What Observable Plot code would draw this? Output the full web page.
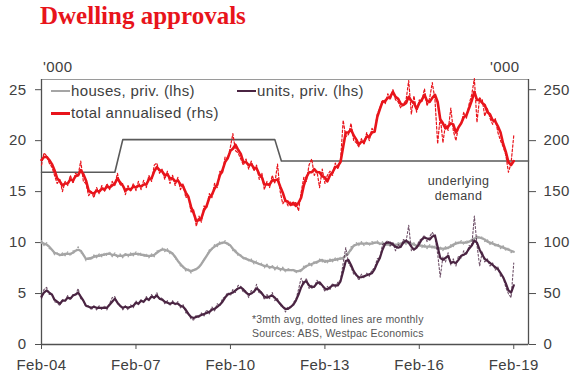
<!DOCTYPE html>
<html>
<head>
<meta charset="utf-8">
<script src="https://cdn.jsdelivr.net/npm/d3@7"></script>
<script src="https://cdn.jsdelivr.net/npm/@observablehq/plot@0.6"></script>
<style>
  body { margin: 0; background: #fff; }
  #wrap { position: relative; width: 580px; height: 376px; font-family: "Liberation Sans", Arial, sans-serif; }
  #title { position: absolute; left: 40px; top: 1px; font-family: "Liberation Serif", "Times New Roman", serif; font-weight: bold; font-size: 25px; color: #e8141b; margin: 0; line-height: 30px; }
  .unit { position: absolute; top: 58px; font-size: 15px; color: #404040; letter-spacing: 0.4px; }
  .leg { position: absolute; font-size: 15px; color: #404040; letter-spacing: 0.35px; white-space: nowrap; line-height: 18px; }
  .leg i { display: inline-block; width: 19px; vertical-align: middle; margin-right: 1px; position: relative; top: -1px; }
  #note { position: absolute; left: 252px; top: 312px; font-size: 10.5px; color: #555; line-height: 14px; letter-spacing: 0.2px; }
</style>
</head>
<body>
<div id="wrap">
  <div id="title">Dwelling approvals</div>
  <div class="unit" style="left:43px">'000</div>
  <div class="unit" style="left:490px">'000</div>
  <div class="leg" style="left:51px; top:82px"><i style="height:2px;background:#a5a5a5"></i>houses, priv. (lhs)</div>
  <div class="leg" style="left:237px; top:82px"><i style="height:2px;background:#4a2442"></i>units, priv. (lhs)</div>
  <div class="leg" style="left:51px; top:104px"><i style="height:3px;background:#e8141b"></i>total annualised (rhs)</div>
  <div id="note">*3mth avg, dotted lines are monthly<br>Sources: ABS, Westpac Economics</div>
</div>
<script>
// Monthly data, Feb-04 (index 0) to Feb-19 (index 180)
const firstMonth = "2004-02-01";

// Houses, private ('000, lhs) — 3mth avg
const housesAvg = [
  10.0,9.9,9.8,9.6,9.3,9.0,8.9,8.8,8.8,8.9,8.9,8.9,
  9.0,9.2,9.3,9.2,8.8,8.4,8.4,8.5,8.6,8.7,8.7,8.8,
  8.8,8.9,8.9,8.8,8.8,8.7,8.7,8.7,8.8,8.8,8.8,8.9,
  8.9,8.9,8.8,8.8,8.7,8.7,8.7,8.8,9.0,9.2,9.3,9.3,
  9.2,9.1,8.9,8.6,8.2,7.9,7.6,7.4,7.3,7.2,7.3,7.4,
  7.6,7.9,8.3,8.7,9.1,9.4,9.6,9.8,9.9,10.0,10.0,9.9,
  9.7,9.4,9.1,8.9,8.7,8.5,8.4,8.3,8.2,8.1,8.0,7.9,
  7.8,7.7,7.7,7.6,7.6,7.5,7.5,7.4,7.4,7.3,7.3,7.3,
  7.3,7.2,7.2,7.3,7.5,7.7,7.8,7.9,8.0,8.1,8.2,8.3,
  8.1,8.2,8.2,8.3,8.3,8.4,8.4,8.5,8.7,9.0,9.3,9.7,
  9.8,9.9,9.9,9.9,9.9,9.9,9.9,10.0,10.0,9.9,9.9,9.8,
  9.8,9.8,9.8,9.8,9.8,9.9,10.0,10.0,10.0,9.9,9.8,9.7,
  9.7,9.7,9.6,9.6,9.6,9.6,9.5,9.5,9.4,9.4,9.4,9.5,
  9.6,9.8,9.9,10.0,10.0,10.0,10.0,10.1,10.2,10.4,10.5,10.5,
  10.4,10.3,10.1,10.0,9.9,9.8,9.7,9.6,9.5,9.4,9.3,9.2,9.1
];
// Houses, private — monthly
const housesMonthly = [
  10.2,9.7,10.0,9.4,9.4,8.8,9.0,8.7,9.0,8.7,9.1,8.7,
  9.2,9.1,9.6,9.0,8.9,8.2,8.6,8.3,8.8,8.5,8.9,8.6,
  9.0,8.7,9.1,8.6,9.0,8.5,8.9,8.5,9.0,8.6,9.0,8.7,
  9.1,8.7,9.0,8.6,8.9,8.5,8.9,8.6,9.2,9.1,9.5,9.1,
  9.4,8.9,9.0,8.4,8.3,7.7,7.7,7.2,7.4,7.0,7.4,7.4,
  7.6,7.9,8.4,8.7,9.3,9.3,9.8,9.6,10.1,9.9,10.2,9.7,
  9.8,9.2,9.3,8.7,8.8,8.4,8.5,8.2,8.4,7.9,8.2,7.8,
  8.0,7.5,7.9,7.4,7.8,7.3,7.7,7.2,7.6,7.1,7.5,7.2,
  7.4,7.0,7.3,7.1,7.7,7.6,8.0,7.7,8.2,7.9,8.4,8.1,
  8.3,8.0,8.4,8.1,8.5,8.2,8.6,8.3,8.9,8.8,9.6,9.6,
  10.0,9.7,10.1,9.7,10.1,9.7,10.1,9.9,10.2,9.8,10.1,9.7,
  10.0,9.6,10.0,9.6,10.0,9.8,10.2,9.8,10.2,9.7,10.0,9.5,
  9.9,9.5,9.8,9.4,9.8,9.4,9.7,9.3,9.6,9.2,9.6,9.4,
  9.8,9.6,10.1,9.9,10.2,9.8,10.2,10.0,10.4,10.3,10.7,10.4,
  10.6,10.1,10.3,9.8,10.1,9.6,9.9,9.4,9.7,9.2,9.5,9.0,9.2
];

// Units, private ('000, lhs) — 3mth avg
const unitsAvg = [
  4.7,5.1,5.3,5.1,4.9,4.4,4.2,4.0,4.3,4.3,4.6,4.5,
  4.8,4.9,5.1,4.7,4.3,3.8,3.7,3.6,3.7,3.6,3.6,3.6,
  3.6,3.6,3.9,4.2,4.5,4.1,3.8,3.6,3.7,3.6,3.7,3.8,
  4.1,4.0,4.3,4.2,4.5,4.4,4.7,4.6,4.8,4.5,4.4,4.2,
  4.1,4.0,4.1,4.0,4.0,3.8,3.7,3.4,3.0,2.7,2.6,2.7,
  2.8,2.9,3.0,3.1,3.2,3.4,3.5,3.7,3.9,4.2,4.6,4.9,
  5.0,5.1,5.3,5.5,5.6,5.4,5.1,4.9,5.0,5.2,5.5,5.3,
  5.0,4.7,4.6,4.7,4.8,4.6,4.3,4.0,3.7,3.5,3.5,3.7,
  3.9,4.3,4.9,5.6,6.1,6.2,5.8,5.6,5.7,6.0,6.1,5.8,
  5.5,5.4,5.6,5.8,5.8,5.8,6.2,7.2,8.2,8.3,7.8,7.2,
  6.8,6.6,6.6,6.7,6.8,6.9,7.0,7.4,8.0,8.5,9.3,9.9,
  10.0,10.0,9.8,9.6,9.5,9.6,10.0,10.2,10.0,9.6,9.3,9.5,
  9.9,10.3,10.5,10.4,10.3,10.6,10.7,9.6,8.5,8.3,8.5,8.7,
  8.0,8.1,8.0,8.3,8.7,8.8,9.0,9.4,9.7,10.2,10.0,9.3,
  8.8,8.4,8.2,8.0,7.8,7.6,7.4,7.0,6.6,6.0,5.3,5.1,5.8
];
// Units, private — monthly
const unitsMonthly = [
  4.5,5.4,5.6,4.9,5.0,4.2,4.1,3.8,4.4,4.3,4.8,4.4,
  4.9,4.8,5.5,4.5,4.3,3.7,3.8,3.4,3.8,3.4,3.8,3.4,
  3.8,3.4,4.0,4.6,4.7,4.0,3.9,3.4,3.8,3.4,3.9,3.6,
  4.3,3.9,4.4,4.1,4.7,4.3,4.9,4.5,5.1,4.4,4.6,4.0,
  4.3,3.8,4.3,3.9,4.2,3.6,3.9,3.1,3.1,2.5,2.4,2.9,
  2.6,3.1,2.8,3.4,3.0,3.7,3.3,4.0,3.8,4.5,4.7,5.1,
  4.8,5.4,5.1,5.8,5.7,5.1,5.3,4.6,5.3,5.1,5.9,5.0,
  5.2,4.4,4.9,4.5,5.1,4.3,4.5,3.8,3.8,3.2,3.7,3.6,
  4.1,4.4,5.4,6.5,5.9,6.5,5.5,5.8,5.6,6.3,5.9,5.8,
  5.2,5.7,5.4,6.0,5.6,6.1,6.3,8.0,9.5,8.0,7.6,6.9,
  6.9,6.3,6.9,6.5,7.0,6.7,7.3,7.5,8.4,8.5,9.8,10.0,
  10.2,9.7,10.0,9.2,9.8,9.5,10.3,10.1,11.7,9.2,9.4,9.6,
  10.2,10.4,10.7,10.1,10.6,11.0,10.5,8.9,6.6,8.6,8.1,9.0,
  7.8,8.4,7.7,8.7,8.5,9.2,8.8,9.7,9.6,12.6,9.8,7.7,
  9.1,8.1,8.4,7.7,8.0,7.3,7.6,6.7,6.6,5.6,5.0,4.6,8.0
];

// Total annualised ('000, rhs) — 3mth avg
const totalAvg = [
  181,184,184,181,177,171,163,160,156,158,158,162,
  161,165,166,171,167,161,151,149,148,151,150,153,
  152,155,154,156,158,163,159,156,151,153,152,155,
  154,156,155,157,157,162,163,170,174,171,170,166,
  167,163,163,160,161,157,155,149,145,135,129,121,
  122,124,132,136,144,147,153,157,166,171,179,183,
  190,192,196,191,187,179,179,176,177,173,173,167,
  164,157,157,157,161,161,162,155,149,141,140,137,
  139,136,139,144,156,164,169,169,172,169,169,165,
  164,160,166,169,174,175,179,194,208,208,211,205,
  201,196,199,199,204,204,208,209,223,231,238,239,
  242,243,248,243,241,236,235,237,243,239,237,231,
  237,240,245,239,238,242,245,238,221,217,212,214,
  217,216,208,213,217,223,225,232,239,248,240,240,
  237,235,228,226,220,219,214,208,197,189,179,176,180
];
// Total annualised — monthly
const totalMonthly = [
  176,188,185,178,174,166,158,162,150,160,156,166,
  158,168,166,180,160,158,146,150,144,154,148,156,
  150,158,152,160,156,168,156,158,147,156,150,158,
  151,160,152,161,154,166,160,176,178,168,172,162,
  170,158,166,156,164,152,158,144,146,130,132,116,
  126,120,136,134,148,144,158,154,170,168,184,182,
  194,207,190,188,182,176,182,172,180,170,176,162,
  168,152,160,154,166,158,177,150,138,142,136,140,
  136,140,131,149,164,160,176,182,166,170,154,172,
  158,166,170,166,178,172,180,220,204,206,217,200,
  198,194,202,196,208,200,212,208,226,232,240,236,
  246,240,250,240,238,232,236,240,259,226,244,228,
  240,238,251,234,242,257,240,197,224,198,216,210,
  232,210,200,214,216,228,222,236,245,261,218,242,
  240,224,232,222,216,222,208,200,194,186,169,178,205
];

// Underlying demand ('000, rhs) — step estimate
const demandDates = ["2004-02-01","2006-06-01","2006-09-01","2011-07-01","2011-09-15","2019-07-22"];
const demandValues = [169,169,201,201,180,180];

// Axes
const xTickDates = ["2004-02-01","2007-02-01","2010-02-01","2013-02-01","2016-02-01","2019-02-01"];
const lhsTicks = [0,5,10,15,20,25];
const rhsTicks = [0,50,100,150,200,250];
const xDomain = ["2004-02-01","2019-07-22"];

const parse = d3.utcParse("%Y-%m-%d");
const start = parse(firstMonth);
const rows = housesAvg.map((v, i) => ({
  date: d3.utcMonth.offset(start, i),
  housesAvg: v, housesMonthly: housesMonthly[i],
  unitsAvg: unitsAvg[i], unitsMonthly: unitsMonthly[i],
  totalAvg: totalAvg[i], totalMonthly: totalMonthly[i]
}));
const demand = demandDates.map((d, i) => ({date: parse(d), v: demandValues[i]}));
const xs = xDomain.map(parse);

const RED = "#e8141b", GREY = "#a5a5a5", PURPLE = "#4a2442", AXIS = "#505050";

const chart = Plot.plot({
  width: 580, height: 376,
  marginTop: 79, marginBottom: 32, marginLeft: 41, marginRight: 52,
  style: {fontFamily: "'Liberation Sans', Arial, sans-serif", fontSize: "15px", color: "#404040", background: "transparent", letterSpacing: "0.4px"},
  x: {type: "utc", domain: xs},
  y: {domain: [0, 26]},
  marks: [
    Plot.frame({stroke: "#9a9a9a"}),
    Plot.ruleY([0], {stroke: AXIS, strokeWidth: 1.3}),
    Plot.ruleX(xs, {stroke: AXIS, strokeWidth: 1.3}),
    Plot.axisX({ticks: xTickDates.map(parse), tickFormat: d3.utcFormat("%b-%y"), tickSize: 5, tickPadding: 10, stroke: AXIS, label: null}),
    Plot.axisY({anchor: "left", ticks: lhsTicks, tickSize: 6, tickPadding: 9, stroke: AXIS, label: null}),
    Plot.axisY({anchor: "right", ticks: rhsTicks.map(v => v / 10), tickFormat: d => String(Math.round(d * 10)), tickSize: 7, tickPadding: 8, stroke: AXIS, label: null}),
    // houses
    Plot.line(rows, {x: "date", y: "housesMonthly", stroke: GREY, strokeWidth: 1.1, strokeDasharray: "2,2"}),
    Plot.line(rows, {x: "date", y: "housesAvg", stroke: GREY, strokeWidth: 2.3}),
    // units
    Plot.line(rows, {x: "date", y: "unitsMonthly", stroke: PURPLE, strokeWidth: 1.1, strokeDasharray: "2,2", strokeOpacity: 0.8}),
    Plot.line(rows, {x: "date", y: "unitsAvg", stroke: PURPLE, strokeWidth: 2.2}),
    // underlying demand (rhs)
    Plot.line(demand, {x: "date", y: d => d.v / 10, stroke: "#5a5a5a", strokeWidth: 1.6}),
    // total (rhs)
    Plot.line(rows, {x: "date", y: d => d.totalMonthly / 10, stroke: RED, strokeWidth: 1.2, strokeDasharray: "2.5,2"}),
    Plot.line(rows, {x: "date", y: d => d.totalAvg / 10, stroke: RED, strokeWidth: 2.6}),
    Plot.text([{date: parse("2017-05-01"), v: 15.35}], {x: "date", y: "v", text: () => "underlying\ndemand", fontSize: 12.5, fill: "#404040", lineHeight: 1.2})
  ]
});
chart.style.position = "absolute";
chart.style.left = "0";
chart.style.top = "0";
document.getElementById("wrap").prepend(chart);
</script>
</body>
</html>
